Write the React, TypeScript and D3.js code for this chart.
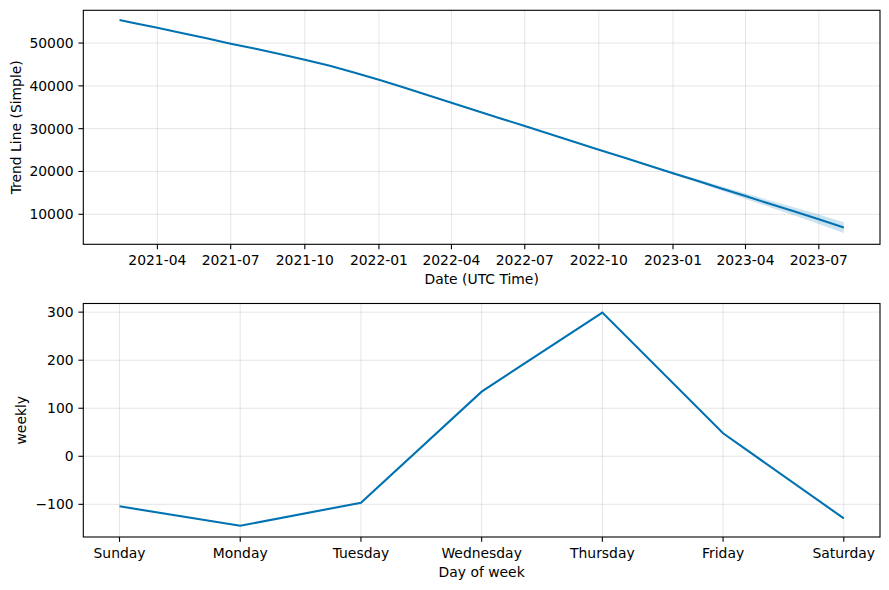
import React from "react";
import * as d3 from "d3";

const trendDates = [
  "2021-02-13","2021-03-01","2021-04-01","2021-05-01","2021-06-01","2021-07-01","2021-08-01",
  "2021-09-01","2021-10-01","2021-11-01","2021-12-01","2022-01-01","2022-02-01","2022-03-01",
  "2022-04-01","2022-05-01","2022-06-01","2022-07-01","2022-08-01","2022-09-01","2022-10-01",
  "2022-11-01","2022-12-01","2023-01-01","2023-02-01","2023-03-01","2023-04-01","2023-05-01",
  "2023-06-01","2023-07-01","2023-08-01",
];
const trendValues = [
  55400, 54750, 53550, 52350, 51100, 49850, 48650,
  47400, 46100, 44700, 43100, 41400, 39600, 37900,
  36050, 34250, 32400, 30600, 28750, 26900, 25100,
  23250, 21450, 19600, 17800, 16100, 14250, 12450,
  10650, 8850, 6900,
];
const trendUpper = [
  55400, 54750, 53550, 52350, 51100, 49850, 48650,
  47400, 46100, 44700, 43100, 41400, 39600, 37900,
  36050, 34250, 32400, 30600, 28750, 26900, 25150,
  23350, 21650, 19900, 18200, 16600, 14900, 13250,
  11600, 9950, 8150,
];
const trendLower = [
  55400, 54750, 53550, 52350, 51100, 49850, 48650,
  47400, 46100, 44700, 43100, 41400, 39600, 37900,
  36050, 34250, 32400, 30600, 28750, 26900, 25050,
  23150, 21250, 19300, 17400, 15600, 13600, 11650,
  9700, 7750, 5650,
];
const trendTickLabels = ["2021-04","2021-07","2021-10","2022-01","2022-04","2022-07","2022-10","2023-01","2023-04","2023-07"];
const trendYTicks = [10000, 20000, 30000, 40000, 50000];

const days = ["Sunday","Monday","Tuesday","Wednesday","Thursday","Friday","Saturday"];
const weeklyValues = [-104.2, -144.6, -96.7, 134.6, 299.2, 47.9, -129.2];
const weeklyYTicks = [-100, 0, 100, 200, 300];

const BLUE = "#0072B2";
const FONT = "DejaVu Sans, sans-serif";
const FS = 13.9;

export default function App() {
  const W = 889, H = 590;
  const left = 83.3, right = 880;
  const top1 = 10.3, bot1 = 244.3;
  const top2 = 303.5, bot2 = 537;

  const parse = d3.timeParse("%Y-%m-%d");
  const dates = trendDates.map((d) => parse(d) as Date);
  const t0 = dates[0].getTime(), t1 = dates[dates.length - 1].getTime();
  const pad = (t1 - t0) * 0.05;
  const x1 = d3.scaleTime().domain([new Date(t0 - pad), new Date(t1 + pad)]).range([left, right]);
  const y1 = d3.scaleLinear().domain([2990, 57650]).range([bot1, top1]);
  const xTicks = trendTickLabels.map((s) => parse(s + "-01") as Date);

  const line1 = d3.line<number>().x((_, i) => x1(dates[i])).y((v) => y1(v));
  const area1 = d3.area<number>()
    .x((_, i) => x1(dates[i]))
    .y0((_, i) => y1(trendLower[i]))
    .y1((_, i) => y1(trendUpper[i]));

  const x2 = d3.scaleLinear().domain([-0.3, 6.3]).range([left, right]);
  const y2 = d3.scaleLinear().domain([-168, 318]).range([bot2, top2]);
  const line2 = d3.line<number>().x((_, i) => x2(i)).y((v) => y2(v));

  const fmtY = (v: number) => (v < 0 ? "\u2212" + Math.abs(v) : String(v));
  const tick = 4.86;

  return (
    <svg width={W} height={H} style={{ position: "absolute", left: 0, top: 0 }} fontFamily={FONT}>
      <rect width={W} height={H} fill="#fff" />
      {/* Top panel */}
      <g>
        {xTicks.map((d, i) => (
          <line key={"gx" + i} x1={x1(d)} x2={x1(d)} y1={top1} y2={bot1} stroke="gray" strokeOpacity={0.2} strokeWidth={1} />
        ))}
        {trendYTicks.map((v) => (
          <line key={"gy" + v} x1={left} x2={right} y1={y1(v)} y2={y1(v)} stroke="gray" strokeOpacity={0.2} strokeWidth={1} />
        ))}
        <path d={area1(trendValues) || ""} fill={BLUE} fillOpacity={0.2} stroke="none" />
        <path d={line1(trendValues) || ""} fill="none" stroke={BLUE} strokeWidth={2.08} />
        <rect x={left} y={top1} width={right - left} height={bot1 - top1} fill="none" stroke="#000" strokeWidth={1.1} />
        {xTicks.map((d, i) => (
          <g key={"tx" + i}>
            <line x1={x1(d)} x2={x1(d)} y1={bot1} y2={bot1 + tick} stroke="#000" strokeWidth={1.1} />
            <text x={x1(d)} y={bot1 + 20.7} fontSize={FS} textAnchor="middle" fill="#000">{trendTickLabels[i]}</text>
          </g>
        ))}
        {trendYTicks.map((v) => (
          <g key={"ty" + v}>
            <line x1={left - tick} x2={left} y1={y1(v)} y2={y1(v)} stroke="#000" strokeWidth={1.1} />
            <text x={left - 9.7} y={y1(v) + 5} fontSize={FS} textAnchor="end" fill="#000">{fmtY(v)}</text>
          </g>
        ))}
        <text x={(left + right) / 2} y={bot1 + 39.7} fontSize={FS} textAnchor="middle" fill="#000">Date (UTC Time)</text>
        <text transform={`translate(20.5,${(top1 + bot1) / 2}) rotate(-90)`} fontSize={FS} textAnchor="middle" fill="#000">Trend Line (Simple)</text>
      </g>
      {/* Bottom panel */}
      <g>
        {days.map((d, i) => (
          <line key={"gx2" + i} x1={x2(i)} x2={x2(i)} y1={top2} y2={bot2} stroke="gray" strokeOpacity={0.2} strokeWidth={1} />
        ))}
        {weeklyYTicks.map((v) => (
          <line key={"gy2" + v} x1={left} x2={right} y1={y2(v)} y2={y2(v)} stroke="gray" strokeOpacity={0.2} strokeWidth={1} />
        ))}
        <path d={line2(weeklyValues) || ""} fill="none" stroke={BLUE} strokeWidth={2.08} />
        <rect x={left} y={top2} width={right - left} height={bot2 - top2} fill="none" stroke="#000" strokeWidth={1.1} />
        {days.map((d, i) => (
          <g key={"tx2" + i}>
            <line x1={x2(i)} x2={x2(i)} y1={bot2} y2={bot2 + tick} stroke="#000" strokeWidth={1.1} />
            <text x={x2(i)} y={bot2 + 20.5} fontSize={FS} textAnchor="middle" fill="#000">{d}</text>
          </g>
        ))}
        {weeklyYTicks.map((v) => (
          <g key={"ty2" + v}>
            <line x1={left - tick} x2={left} y1={y2(v)} y2={y2(v)} stroke="#000" strokeWidth={1.1} />
            <text x={left - 9.7} y={y2(v) + 5} fontSize={FS} textAnchor="end" fill="#000">{fmtY(v)}</text>
          </g>
        ))}
        <text x={(left + right) / 2} y={bot2 + 39.7} fontSize={FS} textAnchor="middle" fill="#000">Day of week</text>
        <text transform={`translate(26,${(top2 + bot2) / 2}) rotate(-90)`} fontSize={FS} textAnchor="middle" fill="#000">weekly</text>
      </g>
    </svg>
  );
}
